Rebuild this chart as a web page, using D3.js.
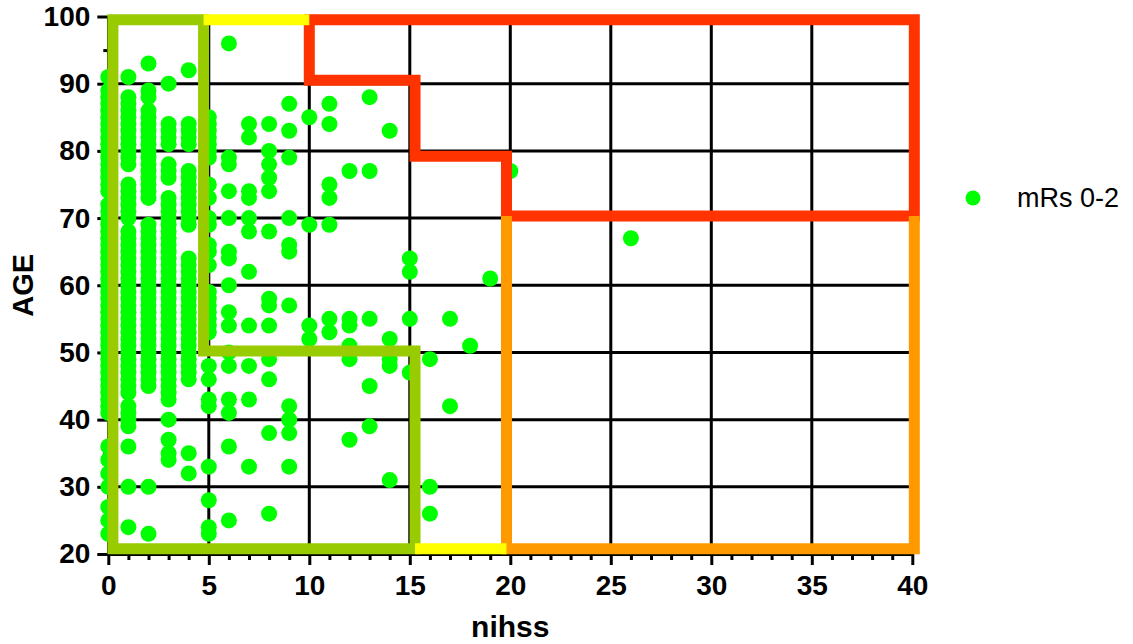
<!DOCTYPE html>
<html>
<head>
<meta charset="utf-8">
<script src="https://cdn.jsdelivr.net/npm/d3@7"></script>
<style>
  body { margin: 0; background: #fff; }
  svg { display: block; }
  text { font-family: "Liberation Sans", Arial, Helvetica, sans-serif; }
</style>
</head>
<body>
<svg id="chart" width="1133" height="644"></svg>
<script>
// Patients with mRS 0-2: age listed per NIHSS score
const nihssScores = [0, 1, 2, 3, 4, 5, 6, 7, 8, 9, 10, 11, 12, 13, 14, 15, 16, 17, 18, 19, 20, 26];
const agesNihss0 = [91, 89, 88, 87, 86, 85, 84, 83, 82, 81, 80, 79, 78, 77, 76, 75, 74, 72, 71, 70, 69, 68, 67, 66, 65, 64, 63, 62, 61, 60, 59, 58, 57, 56, 55, 54, 53, 52, 51, 50, 49, 48, 47, 46, 45, 44, 43, 42, 41, 36, 34, 32, 30, 27, 25, 23];
const agesNihss1 = [91, 88, 87, 86, 85, 84, 83, 82, 81, 80, 79, 78, 75, 74, 73, 72, 71, 70, 68, 67, 66, 65, 64, 63, 62, 61, 60, 59, 58, 57, 56, 55, 54, 53, 52, 51, 50, 49, 48, 47, 46, 45, 44, 42, 41, 40, 39, 36, 30, 24];
const agesNihss2 = [93, 89, 88, 86, 85, 84, 83, 82, 81, 80, 79, 78, 77, 76, 75, 74, 73, 69, 68, 67, 66, 65, 64, 63, 62, 61, 60, 59, 58, 57, 56, 55, 54, 53, 52, 51, 50, 49, 48, 47, 46, 45, 30, 23];
const agesNihss3 = [90, 84, 83, 82, 81, 78, 77, 76, 73, 72, 71, 70, 69, 68, 67, 66, 65, 64, 63, 62, 61, 60, 59, 58, 57, 56, 55, 54, 53, 52, 51, 50, 49, 48, 47, 46, 45, 44, 43, 40, 37, 35, 34];
const agesNihss4 = [92, 84, 83, 82, 81, 77, 76, 75, 74, 73, 72, 71, 70, 69, 64, 63, 62, 61, 60, 59, 58, 57, 56, 55, 54, 53, 52, 51, 50, 49, 48, 47, 46, 35, 32];
const agesNihss5 = [85, 84, 83, 82, 81, 80, 79, 75, 73, 70, 69, 66, 65, 63, 59, 58, 57, 56, 55, 54, 53, 48, 46, 43, 42, 33, 28, 24, 23];
const agesNihss6 = [96, 79, 78, 74, 70, 65, 64, 60, 56, 54, 50, 48, 43, 41, 36, 25];
const agesNihss7 = [84, 82, 74, 73, 70, 68, 62, 54, 48, 43, 33];
const agesNihss8 = [84, 80, 78, 76, 74, 68, 58, 57, 54, 49, 46, 38, 26];
const agesNihss9 = [87, 83, 79, 70, 66, 65, 57, 42, 40, 38, 33];
const agesNihss10 = [85, 69, 54, 52];
const agesNihss11 = [87, 84, 75, 73, 69, 55, 53];
const agesNihss12 = [77, 55, 54, 51, 49, 37];
const agesNihss13 = [88, 77, 55, 45, 39];
const agesNihss14 = [83, 52, 49, 48, 31];
const agesNihss15 = [64, 62, 55, 47];
const agesNihss16 = [49, 30, 26];
const agesNihss17 = [55, 42];
const agesNihss18 = [51];
const agesNihss19 = [61];
const agesNihss20 = [77];
const agesNihss26 = [67];
const ageColumns = [agesNihss0, agesNihss1, agesNihss2, agesNihss3, agesNihss4, agesNihss5, agesNihss6,
  agesNihss7, agesNihss8, agesNihss9, agesNihss10, agesNihss11, agesNihss12, agesNihss13, agesNihss14,
  agesNihss15, agesNihss16, agesNihss17, agesNihss18, agesNihss19, agesNihss20, agesNihss26];

// Axis ticks
const xMajorTicks = [0, 5, 10, 15, 20, 25, 30, 35, 40];
const yMajorTicks = [20, 30, 40, 50, 60, 70, 80, 90, 100];
const xGridValues = [5, 10, 15, 20, 25, 30, 35];
const yGridValues = [30, 40, 50, 60, 70, 80, 90];

// Outlined zones, [nihss, age] vertices
const zoneGreen = [[0.23, 99.5], [4.74, 99.5], [4.74, 50.2], [15.26, 50.2], [15.26, 20.8], [0.23, 20.8]];
const zoneRed = [[10.0, 99.5], [40.1, 99.5], [40.1, 70.3], [19.81, 70.3], [19.81, 79.2], [15.26, 79.2], [15.26, 90.5], [10.0, 90.5]];
const zoneOrange = [[19.81, 70.3], [19.81, 20.8], [40.1, 20.8], [40.1, 70.3]];
const zoneYellowTop = [[4.74, 99.5], [10.0, 99.5]];
const zoneYellowBottom = [[15.26, 20.8], [19.81, 20.8]];

const seriesName = "mRs 0-2";

const svg = d3.select("#chart");
const x = d3.scaleLinear().domain([0, 40]).range([108.3, 912.3]);
const y = d3.scaleLinear().domain([20, 100]).range([554, 16.5]);

const points = [];
nihssScores.forEach((n, i) => ageColumns[i].forEach(a => points.push({ nihss: n, age: a })));

// Grid
const grid = svg.append("g");
grid.selectAll("line.v").data(xGridValues).join("line")
  .attr("x1", d => x(d)).attr("x2", d => x(d))
  .attr("y1", y(20)).attr("y2", y(100))
  .attr("stroke", "#000").attr("stroke-width", 3);
grid.selectAll("line.h").data(yGridValues).join("line")
  .attr("x1", x(0)).attr("x2", x(40))
  .attr("y1", d => y(d)).attr("y2", d => y(d))
  .attr("stroke", "#000").attr("stroke-width", 3);

// Axes
function styleAxis(g) {
  g.selectAll("path.domain").attr("stroke", "#000").attr("stroke-width", 3);
  g.selectAll(".tick line").attr("stroke", "#000").attr("stroke-width", 3);
  g.selectAll(".tick text").attr("fill", "#000")
    .style("font-family", '"Liberation Sans", Arial, sans-serif')
    .style("font-weight", "bold").style("font-size", "28px");
}
const xMinor = d3.range(0, 41).filter(v => v % 5 !== 0);
const yMinor = d3.range(25, 100, 10);

svg.append("g").attr("transform", `translate(0,${y(20)})`)
  .call(d3.axisBottom(x).tickValues(xMinor).tickSize(6).tickSizeOuter(0).tickFormat(""))
  .call(styleAxis);
svg.append("g").attr("transform", `translate(${x(0)},0)`)
  .call(d3.axisLeft(y).tickValues(yMinor).tickSize(5).tickSizeOuter(0).tickFormat(""))
  .call(styleAxis);
svg.append("g").attr("transform", `translate(0,${y(20)})`)
  .call(d3.axisBottom(x).tickValues(xMajorTicks).tickSize(11).tickSizeOuter(0).tickPadding(10).tickFormat(d3.format("d")))
  .call(styleAxis);
svg.append("g").attr("transform", `translate(${x(0)},0)`)
  .call(d3.axisLeft(y).tickValues(yMajorTicks).tickSize(11).tickSizeOuter(0).tickPadding(7).tickFormat(d3.format("d")))
  .call(styleAxis);

// Points
svg.append("g").selectAll("circle").data(points).join("circle")
  .attr("cx", d => x(d.nihss)).attr("cy", d => y(d.age))
  .attr("r", 8).attr("fill", "#00ff00");

// Zone outlines
const line = d3.line().x(d => x(d[0])).y(d => y(d[1]));
const zones = svg.append("g").attr("fill", "none").attr("stroke-width", 11);
zones.append("path").attr("d", line(zoneRed) + "Z").attr("stroke", "#ff3300").attr("stroke-linejoin", "miter");
zones.append("path").attr("d", line(zoneOrange)).attr("stroke", "#ff9900").attr("stroke-linejoin", "miter");
zones.append("path").attr("d", line(zoneGreen) + "Z").attr("stroke", "#99cc00").attr("stroke-linejoin", "miter");
zones.append("path").attr("d", line(zoneYellowTop)).attr("stroke", "#ffff00");
zones.append("path").attr("d", line(zoneYellowBottom)).attr("stroke", "#ffff00");

// Axis titles
svg.append("text").attr("x", x(20)).attr("y", 637).attr("text-anchor", "middle")
  .style("font-weight", "bold").style("font-size", "30px").text("nihss");
svg.append("text").attr("transform", `translate(33,${y(60)}) rotate(-90)`).attr("text-anchor", "middle")
  .style("font-weight", "bold").style("font-size", "29px").text("AGE");

// Legend
const legend = svg.append("g").attr("transform", "translate(973,198)");
legend.append("circle").attr("r", 7.5).attr("fill", "#00ff00");
legend.append("text").attr("x", 44).attr("y", 9).style("font-size", "27px").attr("fill", "#000").text(seriesName);
</script>
</body>
</html>
